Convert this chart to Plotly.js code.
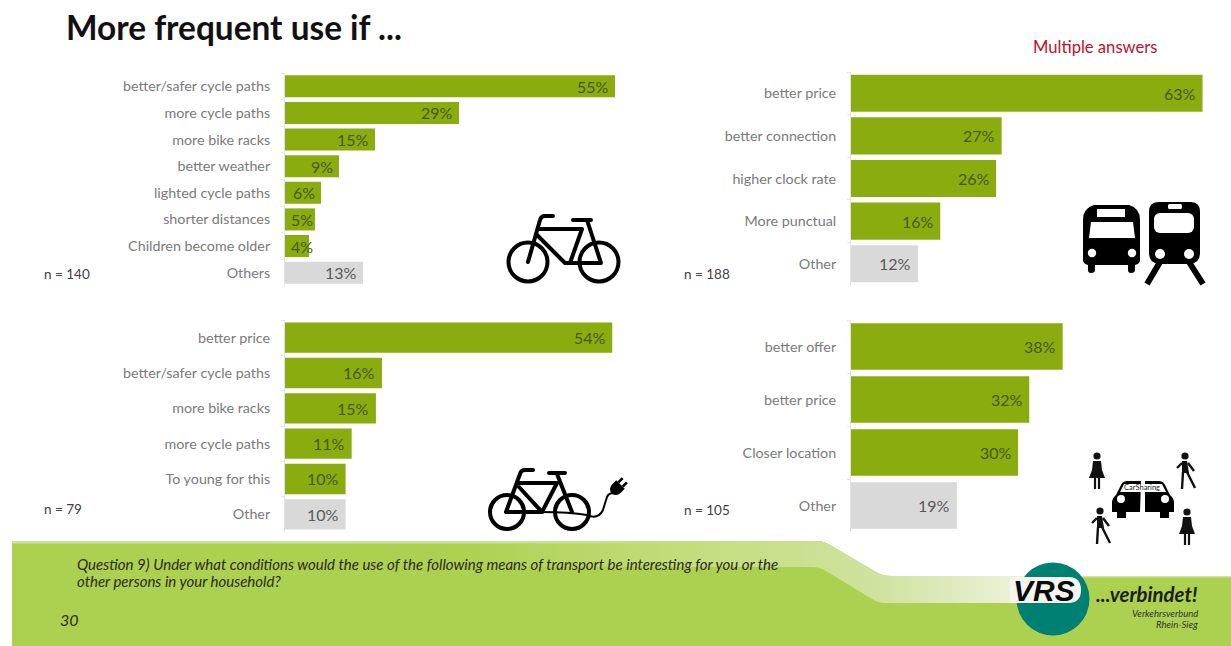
<!DOCTYPE html>
<html>
<head>
<meta charset="utf-8">
<script src="https://cdn.plot.ly/plotly-3.0.1.min.js"></script>
<style>html,body{margin:0;padding:0;background:#fff;overflow:hidden}</style>
</head>
<body>
<div id="chart" style="width:1231px;height:646px"></div>
<script>
// ---- data ----
var bikeCategories = ["better/safer cycle paths","more cycle paths","more bike racks","better weather","lighted cycle paths","shorter distances","Children become older","Others"];
var bikeValues = [55,29,15,9,6,5,4,13];
var transitCategories = ["better price","better connection","higher clock rate","More punctual","Other"];
var transitValues = [63,27,26,16,12];
var ebikeCategories = ["better price","better/safer cycle paths","more bike racks","more cycle paths","To young for this","Other"];
var ebikeValues = [54,16,15,11,10,10];
var carCategories = ["better offer","better price","Closer location","Other"];
var carValues = [38,32,30,19];

var W = 1231, H = 646, FONT = "Lato, Carlito, 'Open Sans', sans-serif";
var GREEN = "#8bac0f", GREY = "#d9d9d9";

function px(x){return x/W;}
function py(y){return 1-y/H;}

var valueLabels = [];

function panel(idx, cats, vals, left, right, top, bottom, scale, gap, size){
  var s = idx===1 ? "" : String(idx);
  var last = cats.length-1;
  var colors = cats.map(function(c,i){return i===last ? GREY : GREEN;});
  var trace = {
    type:"bar", orientation:"h", x:vals, y:cats, xaxis:"x"+s, yaxis:"y"+s,
    marker:{color:colors, line:{width:0}},
    cliponaxis:false, hoverinfo:"skip"
  };
  // value labels sit inside the bar end; a label wider than its bar spills to the right
  vals.forEach(function(v,i){
    valueLabels.push({xref:"x"+s,yref:"y"+s,x:v,y:cats[i],xanchor:"right",yanchor:"middle",
      xshift:Math.max(-4.5,30-v*scale),showarrow:false,text:v+"%",
      font:{family:FONT,size:size,color:i===last?"#595959":"#45591a"}});
  });
  var xa = {domain:[px(left),px(right)], range:[0,(right-left)/scale], visible:false, fixedrange:true};
  var ya = {domain:[py(bottom),py(top)], type:"category", autorange:"reversed", anchor:"x"+s,
    categoryorder:"array", categoryarray:cats,
    showline:true, linecolor:"#dfe3ea", linewidth:1, showgrid:false, zeroline:false,
    ticks:"outside", tickson:"boundaries", ticklen:3, tickcolor:"#dfe3ea", tickwidth:1,
    ticklabelstandoff:11,
    tickfont:{family:FONT,size:14.3,color:"#7a7a7a"}, fixedrange:true};
  return {trace:trace, xa:xa, ya:ya, s:s, gap:gap};
}

var panels = [
  panel(1,bikeCategories,bikeValues,285,617,73,286,6.0,0.17,16),
  panel(2,transitCategories,transitValues,851,1203,72,285,5.58,0.13,16),
  panel(3,ebikeCategories,ebikeValues,285,613,320,532,6.06,0.14,16),
  panel(4,carCategories,carValues,851,1063,320,532,5.57,0.12,16)
];

function note(text,x,y,opt){
  opt = opt||{};
  var a = opt.anchor||"left";
  return {xref:"paper",yref:"paper",x:px(x),y:py(y),xanchor:a,yanchor:"middle",
    showarrow:false,text:text,align:a==="right"?"right":"left",
    font:{family:opt.family||FONT,size:opt.size||13,color:opt.color||"#404040"}};
}

var annotations = [
  note("<b>More frequent use if ...</b>",64,27,{size:33.4,color:"#111111"}),
  note("Multiple answers",1031,47,{size:16.6,color:"#c0102c"}),
  note("n = 140",42,274,{size:13.5}),
  note("n = 188",682,274,{size:13.5}),
  note("n = 79",42,509,{size:13.5}),
  note("n = 105",682,510,{size:13.5}),
  note("<i>Question 9) Under what conditions would the use of the following means of transport be interesting for you or the</i>",75,564,{size:15,color:"#2b2b1c"}),
  note("<i>other persons in your household?</i>",75,581,{size:15,color:"#2b2b1c"}),
  note("<i>30</i>",58,619,{size:16,color:"#2b2b1c"}),
  note("<b><i>VRS</i></b>",1011,590,{size:30,color:"#0a0a0a",family:"'Liberation Sans', Arial, sans-serif"}),
  note("<b><i>...verbindet!</i></b>",1094,594,{size:20.4,color:"#1c1c1c"}),
  note("<i>Verkehrsverbund</i>",1200,613,{size:9.5,color:"#333333",anchor:"right"}),
  note("<i>Rhein-Sieg</i>",1200,624,{size:9.5,color:"#333333",anchor:"right"}),
  note("CarSharing",1142,487,{size:7.5,color:"#222222",anchor:"center"})
].concat(valueLabels);

function person(x,y,skirt){
  var s = '<g transform="translate('+x+','+y+')" fill="#111" stroke="#111">';
  s += '<circle cx="0" cy="-16" r="3.6" stroke="none"/>';
  if(skirt){
    s += '<path d="M-4 -11 H4 L5 -2 L8 6 H-8 L-5 -2 Z" stroke="none"/>';
    s += '<path d="M-2 6 V17 M2 6 V17" stroke-width="2.2" fill="none"/>';
  } else {
    s += '<path d="M-3 -11 L2 -11 L4 1 L-3 1 Z" stroke="none"/>';
    s += '<path d="M-3 -9 L-8 -4 M3 -9 L9 -1 M-2 0 L-3 17 M2 0 L10 16" stroke-width="2.4" fill="none"/>';
  }
  return s+'</g>';
}

var art = '<svg xmlns="http://www.w3.org/2000/svg" width="1231" height="646" viewBox="0 0 1231 646">'
 + '<defs><linearGradient id="b" gradientUnits="userSpaceOnUse" x1="450" x2="1040" y1="0" y2="0">'
 + '<stop offset="0" stop-color="#c3dd7c" stop-opacity="0"/><stop offset="0.4" stop-color="#c3dd7c"/>'
 + '<stop offset="0.73" stop-color="#cfe2a0"/><stop offset="1" stop-color="#f1f5e2"/></linearGradient></defs>'
 // footer
 + '<path d="M12 541 H816 Q824 541 830 545 L876 572 Q882 576 892 576 H1231 V646 H12 Z" fill="#acd04f"/>'
 + '<path d="M12 541 H816 Q824 541 830 545 L876 572 Q882 576 892 576 H1231 V577.5 H892 Q880 577 874 573 L828 546 Q822 543.5 816 543.5 H12 Z" fill="#cfe29a"/>'
 + '<path d="M450 541 H816 Q824 541 830 545 L876 572 Q882 576 892 576 H1040 V603 H886 Q878 603 872 599 L826 571 Q820 567 812 567 H450 Z" fill="url(#b)"/>'
 // logo
 + '<circle cx="1053" cy="599" r="36.5" fill="#007f73"/>'
 + '<path d="M1010 577 H1068 Q1081 577 1081 590 Q1081 603 1068 603 H1010 Z" fill="#f4f6ee"/>'
 // bicycle
 + '<g fill="none" stroke="#000" stroke-width="4" stroke-linecap="round" stroke-linejoin="round">'
 + '<circle cx="528" cy="262" r="19.5"/><circle cx="599" cy="262" r="19.5"/>'
 + '<path d="M553 216 H545 Q541 216 540 220 L528 262"/>'
 + '<path d="M538 229 H582 L570 263 M537 235 L565 263 H601 L587 220 M573 220 H591"/>'
 + '</g>'
 // e-bike
 + '<g fill="none" stroke="#000" stroke-width="4" stroke-linecap="round" stroke-linejoin="round">'
 + '<circle cx="507" cy="512" r="17"/><circle cx="572" cy="512" r="17"/>'
 + '<path d="M533 470 H525 Q521 470 520 474 L506 512 H542"/>'
 + '<path d="M518 483 H557 L542 512 M519 487 L542 512 M549 473 H565 M557 474 L572 512"/>'
 + '</g>'
 + '<path d="M542 512 Q570 512 587 515 Q598 520 603 510 Q606 500 607 497 Q608 494 612 493" fill="none" stroke="#000" stroke-width="2"/>'
 + '<g transform="translate(617,488) rotate(45)"><path d="M-6 -5 H6 V1 Q6 6 0 8 Q-6 6 -6 1 Z" fill="#000"/>'
 + '<path d="M-3 -5 V-11 M3 -5 V-11" stroke="#000" stroke-width="2.6" fill="none"/></g>'
 // bus
 + '<path d="M1094 205 H1129 Q1140 208 1140 220 V260 Q1140 264 1135 265 V270 Q1135 273 1131 273 Q1128 273 1128 270 V265 H1095 V270 Q1095 273 1091 273 Q1088 273 1088 270 V265 Q1083 264 1083 260 V220 Q1083 208 1094 205 Z" fill="#000"/>'
 + '<rect x="1097" y="209" width="28" height="8" fill="#fff"/>'
 + '<path d="M1091 222 H1133 L1135 238 H1089 Z" fill="#fff"/>'
 + '<circle cx="1092" cy="253" r="4.2" fill="#fff"/><circle cx="1132" cy="253" r="4.2" fill="#fff"/>'
 // train
 + '<path d="M1158 202 H1191 Q1200 202 1200 212 V253 Q1200 263 1190 264 H1159 Q1149 263 1149 253 V212 Q1149 202 1158 202 Z" fill="#000"/>'
 + '<rect x="1168" y="204" width="14" height="5" rx="1.5" fill="#fff"/>'
 + '<rect x="1154" y="213" width="40" height="20" rx="6" fill="#fff"/>'
 + '<circle cx="1160" cy="254" r="5" fill="#fff"/><circle cx="1189" cy="254" r="5" fill="#fff"/>'
 + '<path d="M1160 262 L1147 284 M1189 262 L1203 284" stroke="#000" stroke-width="6"/>'
 // car sharing
 + '<path d="M1141 481 H1127 Q1122 481 1120 487 L1116 495 Q1112 498 1112 503 V512 H1117 V518 H1126 V512 H1140 Z" fill="#000"/>'
 + '<path d="M1145 481 H1159 Q1164 481 1166 487 L1170 495 Q1174 498 1174 503 V512 H1169 V518 H1160 V512 H1145 Z" fill="#000"/>'
 + '<path d="M1124 484 H1162 L1166 492 H1120 Z" fill="#fff"/>'
 + '<circle cx="1121" cy="499" r="4" fill="#fff"/><circle cx="1165" cy="499" r="4" fill="#fff"/>'
 + person(1097,472,true) + person(1185,472,false) + person(1100,527,false) + person(1187,528,true)
 + '</svg>';

var layout = {
  width:W, height:H, margin:{l:0,r:0,t:0,b:0,pad:0}, showlegend:false,
  paper_bgcolor:"#ffffff", plot_bgcolor:"rgba(0,0,0,0)", bargap:0.15,
  font:{family:FONT},
  annotations:annotations,
  images:[{source:"data:image/svg+xml;charset=utf-8,"+encodeURIComponent(art),
    xref:"paper",yref:"paper",x:0,y:1,sizex:1,sizey:1,sizing:"stretch",xanchor:"left",yanchor:"top",layer:"below"}]
};
var traces = [];
panels.forEach(function(p){
  traces.push(p.trace);
  layout["xaxis"+p.s]=p.xa;
  layout["yaxis"+p.s]=p.ya;
  p.trace.width = p.trace.y.map(function(){return 1-p.gap;});
});
Plotly.newPlot("chart",traces,layout,{displayModeBar:false,staticPlot:true});
</script>
</body>
</html>
